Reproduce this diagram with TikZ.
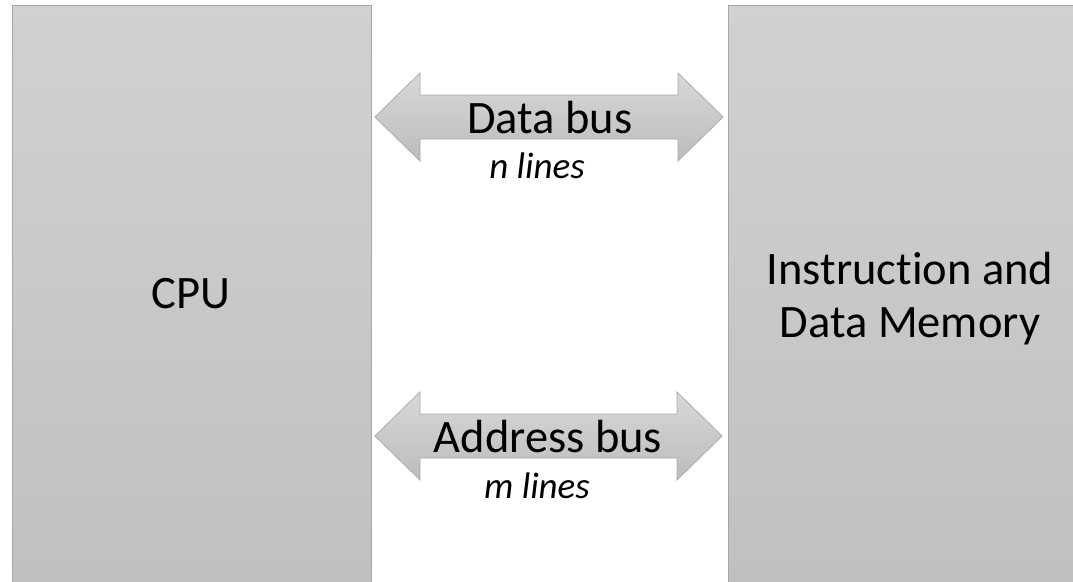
\documentclass[tikz,border=0pt]{standalone}
\usepackage{fontspec}
\setmainfont{Carlito}[Ligatures=NoCommon]
\usetikzlibrary{calc}
\definecolor{boxtop}{HTML}{D1D1D1}
\definecolor{boxbot}{HTML}{C0C0C0}
\definecolor{boxline}{HTML}{A6A6A6}
\definecolor{arrtop}{HTML}{D8D8D8}
\definecolor{arrbot}{HTML}{BCBCBC}
\definecolor{arrline}{HTML}{ABABAB}
\tikzset{
  unitbox/.style={draw=boxline, line width=1pt, top color=boxtop, bottom color=boxbot},
  busarrow/.style={draw=arrline, line width=0.8pt, top color=arrtop, bottom color=arrbot},
  bigtext/.style={font=\fontsize{46.5}{53}\selectfont, text=black, align=center},
  smalltext/.style={font=\fontsize{37}{42}\selectfont\itshape, text=black, anchor=base},
  buslabel/.style={font=\fontsize{46.5}{53}\selectfont, text=black, anchor=base}
}
\begin{document}
\begin{tikzpicture}[x=1pt,y=-1pt]
\useasboundingbox (0,0) rectangle (1073,581);
% boxes
\path[unitbox] (12,5) rectangle (371,583);
\path[unitbox] (728,5) rectangle (1088,583);
\node[bigtext] (cpu) at (191,294) {CPU};
\node[bigtext] (mem) at (910,299) {Instruction and\\Data Memory};
% data bus arrow
\coordinate (dl) at (375,117);
\coordinate (dr) at (723,117);
\path[busarrow] (dl) -- ($(dl)+(45,-44)$) -- ($(dl)+(45,-22)$) -- ($(dr)+(-45,-22)$) -- ($(dr)+(-45,-44)$) -- (dr)
  -- ($(dr)+(-45,44)$) -- ($(dr)+(-45,22)$) -- ($(dl)+(45,22)$) -- ($(dl)+(45,44)$) -- cycle;
\node[buslabel] (dbus) at (550,133) {Data bus};
\node[smalltext] (nl) at (537,178) {n lines};
% address bus arrow
\coordinate (al) at (375,436);
\coordinate (ar) at (722,436);
\path[busarrow] (al) -- ($(al)+(45,-44)$) -- ($(al)+(45,-22)$) -- ($(ar)+(-45,-22)$) -- ($(ar)+(-45,-44)$) -- (ar)
  -- ($(ar)+(-45,44)$) -- ($(ar)+(-45,22)$) -- ($(al)+(45,22)$) -- ($(al)+(45,44)$) -- cycle;
\node[buslabel] (abus) at (548,452) {Address bus};
\node[smalltext] (ml) at (537,498) {m lines};
\end{tikzpicture}
\end{document}
